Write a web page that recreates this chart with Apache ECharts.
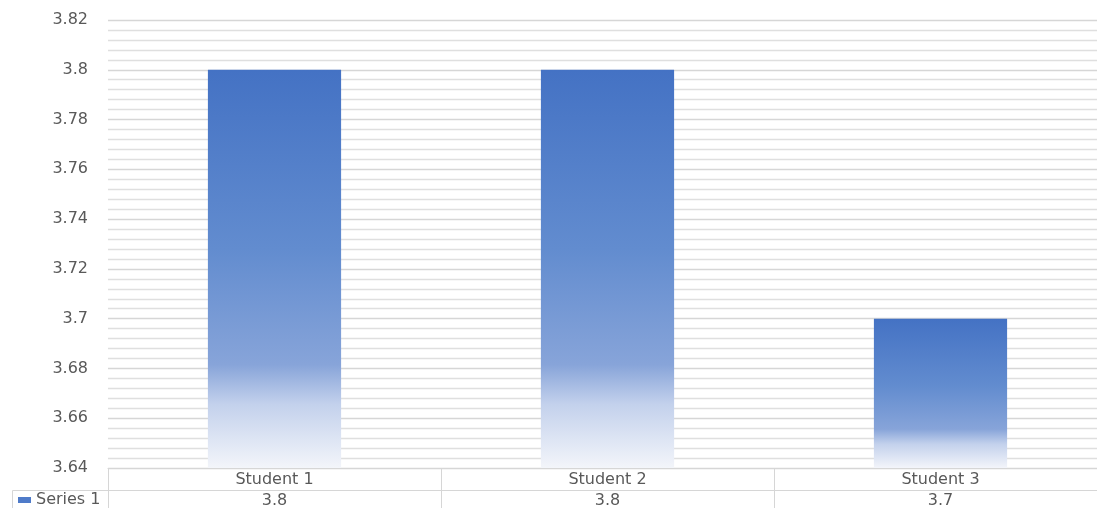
<!DOCTYPE html>
<html>
<head>
<meta charset="utf-8">
<style>
  html, body { margin: 0; padding: 0; background: #fff; }
  #main { width: 1097px; height: 508px; }
</style>
<script src="https://cdn.jsdelivr.net/npm/echarts@6/dist/echarts.min.js"></script>
</head>
<body>
<div id="main"></div>
<script>
const categories = ['Student 1', 'Student 2', 'Student 3'];
const seriesName = 'Series 1';
const values = [3.8, 3.8, 3.7];
const yTicks = { min: 3.64, max: 3.82, interval: 0.02 };

var myChart = echarts.init(document.getElementById('main'));

// gradient runs per bar: solid blue top, fading to near white at the bottom
var barFill = new echarts.graphic.LinearGradient(0, 0, 0, 1, [
    { offset: 0, color: '#4472c4' },
    { offset: 0.45, color: '#628ccf' },
    { offset: 0.74, color: '#87a4d9' },
    { offset: 0.84, color: '#c3d1ec' },
    { offset: 1, color: '#f3f5fa' }
]);

var textColor = '#595959';
var lineColor = '#d6d6d6';
var font = '"DejaVu Sans", sans-serif';

let option = {
    animation: false,
    grid: {
        left: 108,
        top: 20,
        width: 999,
        height: 448,
        outerBoundsMode: 'none'
    },
    legend: {
        left: 18,
        top: 492,
        icon: 'rect',
        itemWidth: 13,
        itemHeight: 6,
        itemGap: 0,
        padding: 0,
        data: [{ name: seriesName, itemStyle: { color: '#4f7bc9' } }],
        textStyle: { color: textColor, fontSize: 16, fontFamily: font, padding: [0, 0, 0, 0] }
    },
    xAxis: [{
        type: 'category',
        data: categories,
        position: 'bottom',
        axisLine: { show: true, lineStyle: { color: lineColor, width: 1 } },
        axisTick: { show: true, length: 42, lineStyle: { color: lineColor } },
        axisLabel: { color: textColor, fontSize: 16, fontFamily: font, margin: 4 }
    }, {
        type: 'category',
        data: values.map(function (v) { return String(v); }),
        position: 'bottom',
        offset: 22,
        axisLine: { show: true, lineStyle: { color: lineColor, width: 1 } },
        axisTick: { show: false },
        axisLabel: { color: textColor, fontSize: 16, fontFamily: font, margin: 3 }
    }],
    yAxis: {
        type: 'value',
        min: yTicks.min,
        max: yTicks.max,
        interval: yTicks.interval,
        axisLine: { show: false },
        axisTick: { show: false },
        axisLabel: {
            color: textColor,
            fontSize: 16,
            fontFamily: font,
            margin: 20,
            formatter: function (v) { return String(parseFloat(v.toFixed(2))); }
        },
        splitLine: { lineStyle: { color: lineColor, width: 1.3 } },
        minorTick: { show: false, splitNumber: 5 },
        minorSplitLine: { show: true, lineStyle: { color: '#dfdfdf', width: 1.3 } }
    },
    graphic: [{
        type: 'rect',
        shape: { x: 12.5, y: 490.5, width: 96, height: 30 },
        style: { fill: 'none', stroke: lineColor, lineWidth: 1 },
        silent: true
    }],
    series: [{
        name: seriesName,
        type: 'bar',
        barWidth: '40%',
        data: values,
        itemStyle: { color: barFill }
    }]
};

myChart.setOption(option);
window.addEventListener('resize', function () {
    myChart.resize();
});
</script>
</body>
</html>
